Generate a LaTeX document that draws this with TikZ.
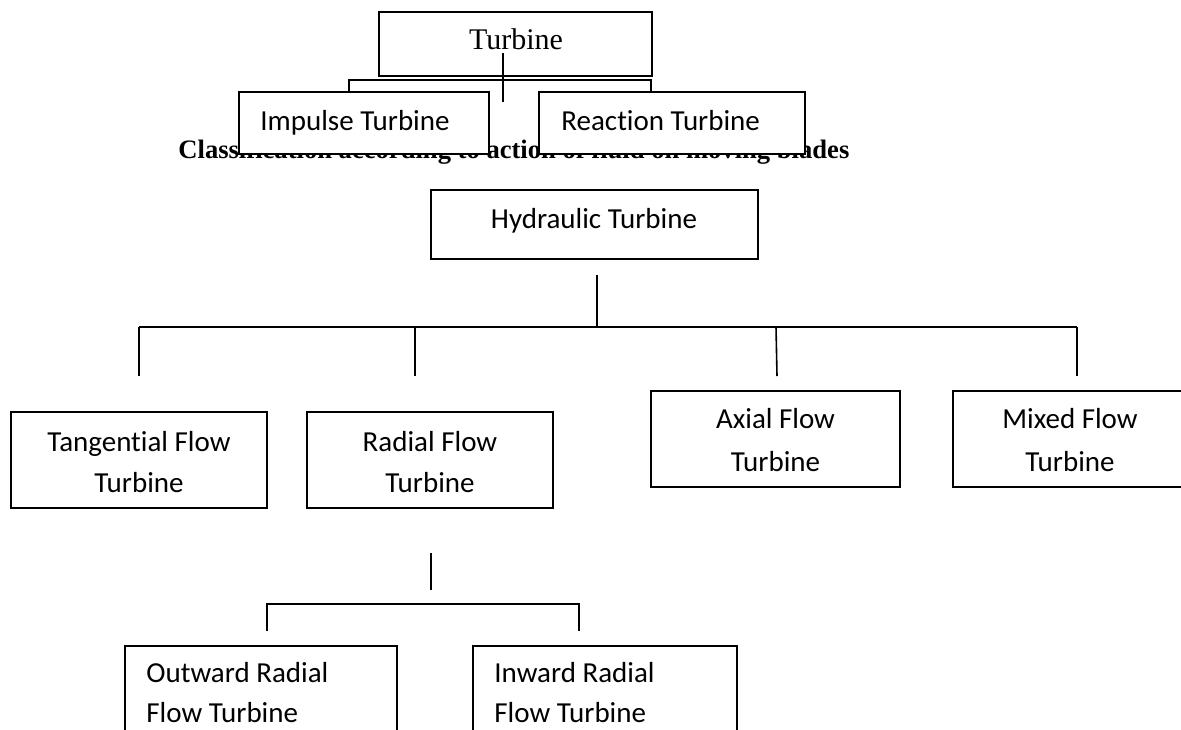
\documentclass[tikz,border=0pt]{standalone}
\usepackage{fontspec}
\newfontfamily\calfont[RawFeature=-liga]{Carlito}
\newfontfamily\tnrfont{Liberation Serif}
\usetikzlibrary{fit}
\begin{document}
\begin{tikzpicture}[x=0.5pt,y=-0.5pt,
  box/.style={draw, line width=0.9pt, fill=white, inner sep=0pt},
  conn/.style={line width=0.8pt},
  lbl/.style={font=\calfont\fontsize{14.5}{17}\selectfont, inner sep=0pt, anchor=base},
  lbll/.style={lbl, anchor=base west},
  ser/.style={font=\tnrfont\fontsize{15}{18}\selectfont, inner sep=0pt, anchor=base}]
\useasboundingbox (0,0) rectangle (1181,729);
\clip (0,0) rectangle (1181,729);
% caption (partly hidden by the boxes)
\node[font=\tnrfont\bfseries\fontsize{13.3}{16}\selectfont, anchor=base west, inner sep=0pt] (cls) at (178,158) {Classification according to action of fluid on moving blades};
% top tree
\node[box, fit={(379,12) (652,76)}] (tur) {};
\node[ser] (turt) at (516,49) {Turbine};
\coordinate (ta) at (349,80);
\coordinate (tb) at (651,80);
\node[box, fit={(239,92) (489,154)}] (imp) {};
\node[lbll] (impt) at (260,130) {Impulse Turbine};
\node[box, fit={(539,92) (805,154)}] (rea) {};
\node[lbll] (reat) at (561,130) {Reaction Turbine};
\coordinate (ia) at (349,92);
\coordinate (ra) at (651,92);
\draw[conn] (ia) -- (ta) -- (tb) -- (ra);
\coordinate (tv1) at (503,53);
\coordinate (tv2) at (503,102);
\draw[conn] (tv1) -- (tv2);
% hydraulic tree
\node[box, fit={(431,190) (758,259)}] (hyd) {};
\node[lbl] (hydt) at (594,228) {Hydraulic Turbine};
\coordinate (h1) at (597,275);
\coordinate (h2) at (597,327);
\coordinate (hl) at (139,327);
\coordinate (hr) at (1077,327);
\draw[conn] (h1) -- (h2);
\draw[conn] (hl) -- (hr);
\coordinate (d1a) at (139,327); \coordinate (d1b) at (139,376);
\coordinate (d2a) at (415,327); \coordinate (d2b) at (415,376);
\coordinate (d3a) at (776,327); \coordinate (d3b) at (777,376);
\coordinate (d4a) at (1077,327); \coordinate (d4b) at (1077,376);
\draw[conn] (d1a) -- (d1b);
\draw[conn] (d2a) -- (d2b);
\draw[conn] (d3a) -- (d3b);
\draw[conn] (d4a) -- (d4b);
\node[box, fit={(11,412) (267,508)}] (tan) {};
\node[lbl] (tant1) at (139,451) {Tangential Flow};
\node[lbl] (tant2) at (139,492) {Turbine};
\node[box, fit={(307,412) (553,508)}] (rad) {};
\node[lbl] (radt1) at (430,451) {Radial Flow};
\node[lbl] (radt2) at (430,492) {Turbine};
\node[box, fit={(651,391) (900,487)}] (axi) {};
\node[lbl] (axit1) at (775.5,428) {Axial Flow};
\node[lbl] (axit2) at (775.5,471) {Turbine};
\node[box, fit={(953,391) (1187,487)}] (mix) {};
\node[lbl] (mixt1) at (1070,428) {Mixed Flow};
\node[lbl] (mixt2) at (1070,471) {Turbine};
% radial sub-tree
\coordinate (r1) at (431,553);
\coordinate (r2) at (431,590);
\draw[conn] (r1) -- (r2);
\coordinate (ol) at (267,631);
\coordinate (oh) at (267,604);
\coordinate (ih) at (579,604);
\coordinate (il) at (579,631);
\draw[conn] (ol) -- (oh) -- (ih) -- (il);
\node[box, fit={(125,646) (397,745)}] (out) {};
\node[lbll] (outt1) at (146,682) {Outward Radial};
\node[lbll] (outt2) at (146,722) {Flow Turbine};
\node[box, fit={(473,646) (737,745)}] (inw) {};
\node[lbll] (inwt1) at (494,682) {Inward Radial};
\node[lbll] (inwt2) at (494,722) {Flow Turbine};
\end{tikzpicture}
\end{document}
